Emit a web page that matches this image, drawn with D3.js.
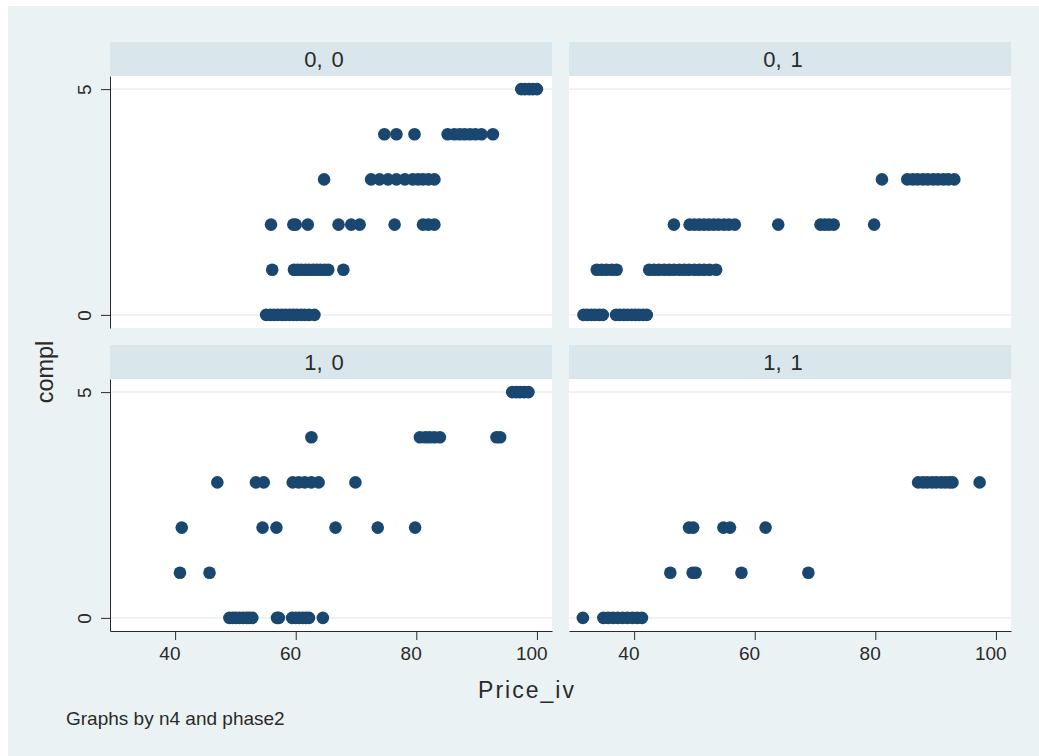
<!DOCTYPE html>
<html>
<head>
<meta charset="utf-8">
<script src="https://cdn.jsdelivr.net/npm/d3@7"></script>
<style>
  body { margin: 0; background: #ffffff; }
  text { font-family: "Liberation Sans", Arial, sans-serif; fill: #2a2a2a; }
</style>
</head>
<body>
<svg id="chart" width="1039" height="756"></svg>
<script>
// ---- data: price_iv by compl level (array index = compl) for each n4/phase2 group ----
const panelLabels = ["0, 0", "0, 1", "1, 0", "1, 1"];
const xTicks = [40, 60, 80, 100];
const yTicks = [0, 5];

const price_n0_p0 = [
  [55.1, 55.8, 56.4, 57.0, 57.7, 58.3, 59.0, 59.6, 60.2, 60.9, 61.5, 62.2, 63.1],
  [56.1, 59.7, 60.3, 60.9, 61.6, 62.2, 62.9, 63.5, 64.1, 64.8, 65.4, 67.9],
  [55.9, 59.6, 60.0, 62.0, 67.1, 69.2, 70.6, 76.4, 81.1, 82.0, 83.0],
  [64.7, 72.5, 73.9, 75.3, 76.7, 78.1, 79.4, 80.3, 81.1, 82.0, 83.0],
  [74.7, 76.7, 79.7, 85.2, 86.3, 87.2, 88.0, 88.9, 89.8, 90.8, 92.7],
  [97.4, 98.0, 98.7, 99.3, 100.0]
];
const price_n0_p1 = [
  [31.6, 32.2, 32.9, 33.5, 34.2, 34.8, 37.0, 37.6, 38.3, 38.9, 39.6, 40.2, 40.8, 41.5, 42.1],
  [33.8, 34.6, 35.4, 36.3, 37.1, 42.5, 43.3, 44.1, 45.0, 45.8, 46.6, 47.5, 48.3, 49.1, 50.0, 50.8, 51.6, 52.5, 53.6],
  [46.6, 49.2, 50.0, 50.8, 51.6, 52.4, 53.2, 54.0, 54.9, 55.7, 56.7, 63.9, 70.9, 71.6, 72.3, 73.1, 79.8],
  [81.1, 85.3, 86.2, 87.0, 87.9, 88.7, 89.6, 90.4, 91.3, 92.1, 93.1],
  [],
  []
];
const price_n1_p0 = [
  [49.0, 49.6, 50.1, 50.7, 51.3, 51.9, 52.3, 52.8, 56.9, 57.2, 59.4, 60.0, 60.6, 61.2, 61.7, 62.2, 64.5],
  [40.8, 45.7],
  [41.1, 54.5, 56.8, 66.6, 73.6, 79.8],
  [47.0, 53.4, 54.7, 59.5, 60.5, 61.5, 62.6, 63.8, 69.9],
  [62.6, 80.6, 81.5, 82.2, 83.0, 83.9, 93.3, 93.9],
  [95.9, 96.6, 97.2, 97.9, 98.6]
];
const price_n1_p1 = [
  [31.5, 34.9, 35.7, 36.5, 37.3, 38.1, 38.9, 39.7, 40.5, 41.3],
  [46.0, 49.7, 50.2, 57.8, 68.9],
  [49.1, 49.8, 54.8, 55.9, 61.8],
  [87.1, 87.9, 88.6, 89.4, 90.1, 90.9, 91.6, 92.3, 92.8, 97.3],
  [],
  []
];

const panelData = [price_n0_p0, price_n0_p1, price_n1_p0, price_n1_p1];

// ---- layout ----
const W = 1039, H = 756;
const colX = [110, 569];
const rowY = [76, 379];
const plotW = 442, plotH = 252, stripH = 34;

const colors = {
  outer: "#eaf2f3",
  strip: "#d9e6eb",
  plot: "#ffffff",
  grid: "#eaf2f3",
  marker: "#1a476f",
  axis: "#2a2a2a"
};

const svg = d3.select("#chart");

svg.append("rect")
  .attr("x", 8).attr("y", 6)
  .attr("width", W - 8).attr("height", H - 6)
  .attr("fill", colors.outer);

const x = d3.scaleLinear().domain([29.2, 102.5]).range([0, plotW]);
const y = d3.scaleLinear().domain([-0.29, 5.29]).range([plotH, 0]);

panelData.forEach((levels, i) => {
  const col = i % 2, row = Math.floor(i / 2);
  const g = svg.append("g").attr("transform", `translate(${colX[col]},${rowY[row]})`);

  // strip header
  g.append("rect")
    .attr("x", 0).attr("y", -stripH)
    .attr("width", plotW).attr("height", stripH)
    .attr("fill", colors.strip);
  g.append("text")
    .attr("x", plotW / 2 - 7).attr("y", -stripH / 2)
    .attr("dy", "0.36em")
    .attr("text-anchor", "middle")
    .style("font-size", "22px")
    .style("word-spacing", "3px")
    .text(panelLabels[i]);

  // plot region
  g.append("rect")
    .attr("width", plotW).attr("height", plotH)
    .attr("fill", colors.plot);

  // horizontal grid lines at the y ticks
  g.selectAll("line.grid")
    .data(yTicks)
    .join("line")
    .attr("class", "grid")
    .attr("x1", 0).attr("x2", plotW)
    .attr("y1", d => y(d)).attr("y2", d => y(d))
    .attr("stroke", colors.grid)
    .attr("stroke-width", 1.6);

  // markers
  const pts = [];
  levels.forEach((prices, compl) => prices.forEach(p => pts.push({ price: p, compl })));
  g.selectAll("circle")
    .data(pts)
    .join("circle")
    .attr("cx", d => x(d.price))
    .attr("cy", d => y(d.compl))
    .attr("r", 6.3)
    .attr("fill", colors.marker);

  // y axis on left column
  if (col === 0) {
    const ya = g.append("g")
      .call(d3.axisLeft(y).tickValues(yTicks).tickSize(9).tickSizeOuter(0).tickFormat(d3.format("d")));
    ya.select(".domain").attr("stroke", colors.axis);
    ya.selectAll(".tick line").attr("stroke", colors.axis);
    ya.selectAll(".tick text")
      .attr("transform", "rotate(-90)")
      .attr("x", 0).attr("y", -19).attr("dy", 0)
      .attr("text-anchor", "middle")
      .style("font-size", "19px")
      .attr("fill", "#2a2a2a");
  }

  // x axis on bottom row
  if (row === 1) {
    const xa = g.append("g")
      .attr("transform", `translate(0,${plotH})`)
      .call(d3.axisBottom(x).tickValues(xTicks).tickSize(9).tickPadding(7).tickSizeOuter(0).tickFormat(d3.format("d")));
    xa.select(".domain").attr("stroke", colors.axis);
    xa.selectAll(".tick line").attr("stroke", colors.axis);
    xa.selectAll(".tick text")
      .attr("dx", "-0.3em")
      .style("font-size", "19px")
      .attr("fill", "#2a2a2a");
  }
});

// axis titles and note
svg.append("text")
  .attr("x", 527).attr("y", 698)
  .attr("text-anchor", "middle")
  .style("font-size", "23px")
  .style("letter-spacing", "2px")
  .text("Price_iv");

svg.append("text")
  .attr("transform", "translate(53,372) rotate(-90)")
  .attr("text-anchor", "middle")
  .style("font-size", "23.5px")
  .text("compl");

svg.append("text")
  .attr("x", 66).attr("y", 725)
  .style("font-size", "19px")
  .text("Graphs by n4 and phase2");
</script>
</body>
</html>
